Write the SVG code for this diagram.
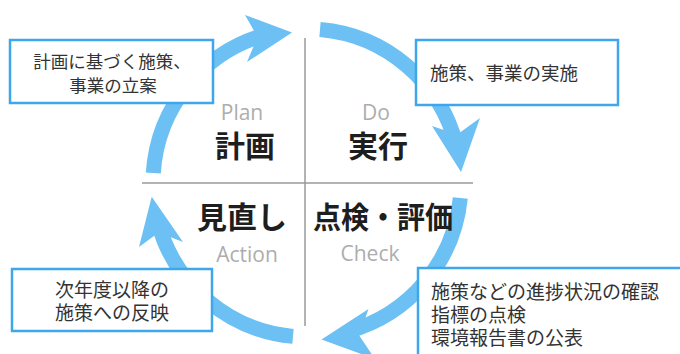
<svg xmlns="http://www.w3.org/2000/svg" width="680" height="354" viewBox="0 0 680 354">
<style>
.arc{fill:none;stroke:#6cc0f4;stroke-width:15;stroke-linecap:butt}
.head{fill:#6cc0f4}
.axis{stroke:#9a9a9a;stroke-width:1.5}
.box{fill:#ffffff;stroke:#3ea6ea;stroke-width:2.5}
.note{font-family:"Noto Sans CJK JP","Noto Sans CJK SC",sans-serif;fill:#333333}
.jp{font-family:"Noto Sans CJK JP","Noto Sans CJK SC",sans-serif;font-size:30px;font-weight:bold;fill:#1e1e1e;text-anchor:middle}
.en{font-family:"Open Sans","Noto Sans",sans-serif;font-size:21px;fill:#adadad;text-anchor:middle}
</style>
<rect width="680" height="354" fill="#ffffff"/>
<g id="axes">
<line class="axis" x1="305" y1="38" x2="305" y2="326"/>
<line class="axis" x1="142" y1="183" x2="473" y2="183"/>
</g>
<g id="connectors">
<path class="arc" d="M153.3,173 A154 154 0 0 1 267.1,34.2"/>
<polygon class="head" points="292,32.5 245,15 257.5,37 247,62"/>
<path class="arc" d="M320,29.5 A154 154 0 0 1 456.4,145.7"/>
<polygon class="head" points="461,172 480,118 457.2,134.5 432,126"/>
<path class="arc" d="M460.3,198 A154 154 0 0 1 347.7,331.5"/>
<polygon class="head" points="321.5,339.5 368.5,309 359.2,335.4 375,359"/>
<path class="arc" d="M293,336.4 A154 154 0 0 1 158,222"/>
<polygon class="head" points="151.7,196.7 139,247 158.7,232.5 183,242"/>
</g>
<g id="plan">
<text class="en" x="242" y="120">Plan</text>
<text class="jp" x="245" y="157">計画</text>
</g>
<g id="do">
<text class="en" x="376" y="120">Do</text>
<text class="jp" x="378" y="157">実行</text>
</g>
<g id="action">
<text class="jp" x="242" y="228">見直し</text>
<text class="en" x="247" y="262">Action</text>
</g>
<g id="check">
<text class="jp" x="383" y="228" textLength="140" lengthAdjust="spacingAndGlyphs">点検・評価</text>
<text class="en" x="370" y="261">Check</text>
</g>
<g id="box-plan">
<rect class="box" x="10" y="40" width="203" height="63"/>
<text class="note" font-size="17.5" text-anchor="middle" x="112" y="68">計画に基づく施策、</text>
<text class="note" font-size="17.5" text-anchor="middle" x="113" y="92">事業の立案</text>
</g>
<g id="box-do">
<rect class="box" x="416" y="40" width="202" height="65"/>
<text class="note" font-size="18.5" x="430" y="80">施策、事業の実施</text>
</g>
<g id="box-action">
<rect class="box" x="12" y="269" width="200" height="62"/>
<text class="note" font-size="19" text-anchor="middle" x="112" y="297">次年度以降の</text>
<text class="note" font-size="19" text-anchor="middle" x="112" y="320">施策への反映</text>
</g>
<g id="box-check">
<rect class="box" x="418" y="268" width="280" height="100"/>
<text class="note" font-size="19" x="431" y="299">施策などの進捗状況の確認</text>
<text class="note" font-size="19" x="431" y="322">指標の点検</text>
<text class="note" font-size="19" x="431" y="345">環境報告書の公表</text>
</g>
</svg>
